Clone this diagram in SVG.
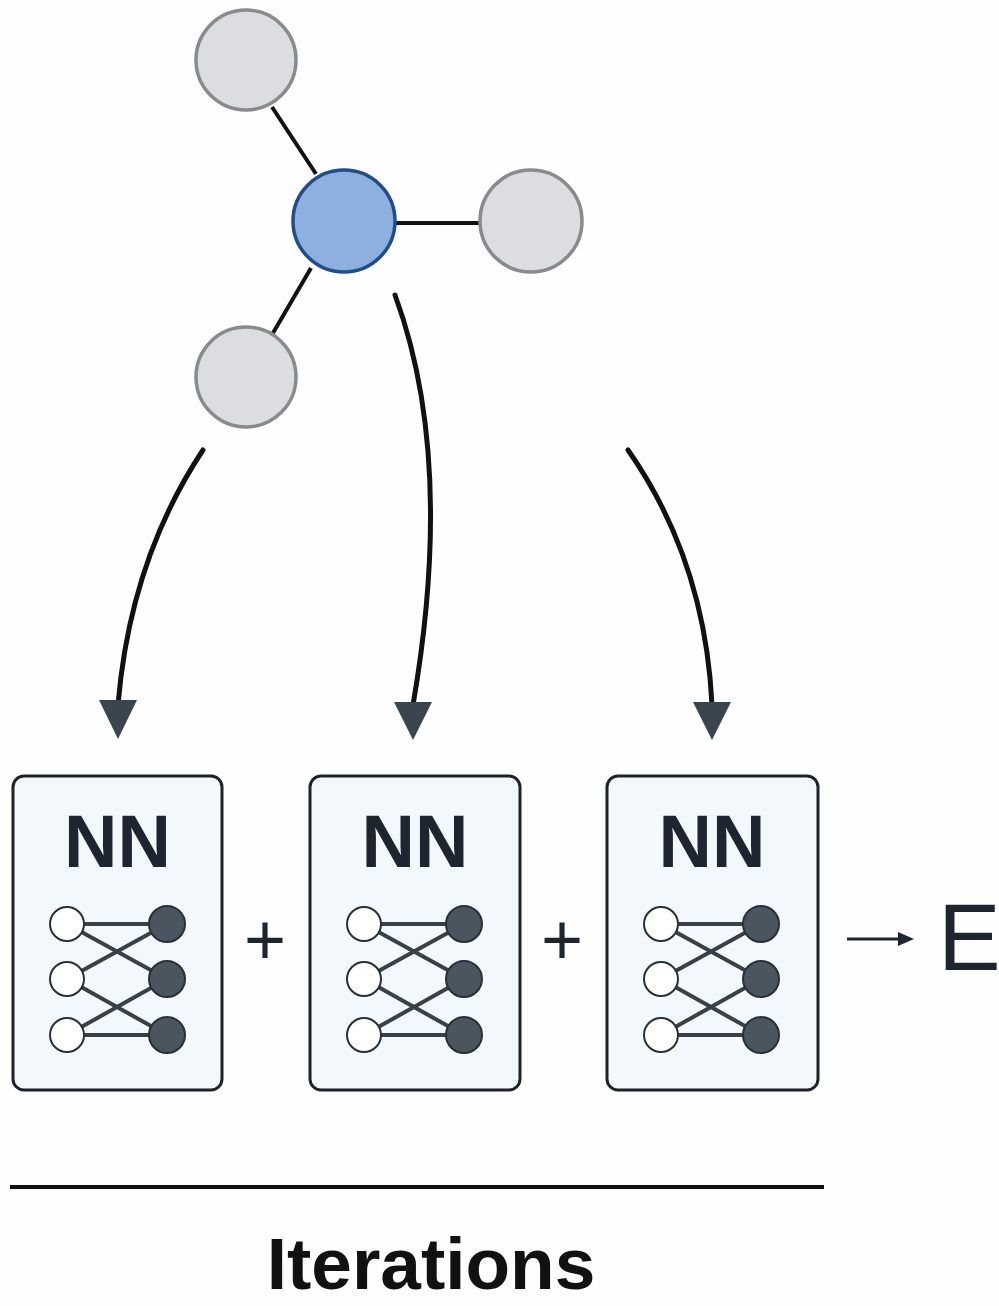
<svg xmlns="http://www.w3.org/2000/svg" width="999" height="1306" viewBox="0 0 999 1306">
<defs>
<style>
.gn{fill:#dcdde0;stroke:#8a8a8a;stroke-width:3.5}
.bn{fill:#8eb0de;stroke:#1f4e8c;stroke-width:3.5}
.edge{stroke:#111;stroke-width:4;fill:none}
.flow{stroke:#111;stroke-width:5;fill:none;stroke-linecap:round}
.box{fill:#f3f8fc;stroke:#1f2328;stroke-width:3}
.nn{font-family:"Liberation Sans",Arial,sans-serif;font-weight:bold;font-size:74px;fill:#1c2530;text-anchor:middle}
.w{fill:#fff;stroke:#2a2f35;stroke-width:2}
.d{fill:#4a5560;stroke:#2a3038;stroke-width:2}
.ml{stroke:#3a4048;stroke-width:4;fill:none}
.op{font-family:"Liberation Sans",Arial,sans-serif;font-size:72px;fill:#1c2530;text-anchor:middle}
</style>
<g id="mini">
<line class="ml" x1="67" y1="924" x2="167" y2="924"/>
<line class="ml" x1="67" y1="1035" x2="167" y2="1035"/>
<line class="ml" x1="67" y1="924" x2="167" y2="979"/>
<line class="ml" x1="67" y1="979" x2="167" y2="924"/>
<line class="ml" x1="67" y1="979" x2="167" y2="1035"/>
<line class="ml" x1="67" y1="1035" x2="167" y2="979"/>
<circle class="w" cx="67" cy="924" r="17"/>
<circle class="w" cx="67" cy="979" r="17"/>
<circle class="w" cx="67" cy="1035" r="17"/>
<circle class="d" cx="167" cy="924" r="18"/>
<circle class="d" cx="167" cy="979" r="18"/>
<circle class="d" cx="167" cy="1035" r="18"/>
</g>
</defs>
<rect width="999" height="1306" fill="#fefefe"/>

<g id="connectors">
<line class="edge" x1="272" y1="107" x2="316" y2="174"/>
<line class="edge" x1="395" y1="223" x2="481" y2="223"/>
<line class="edge" x1="311" y1="268" x2="273" y2="333"/>
<path class="flow" d="M203,450 Q130,560 118,705"/>
<path class="flow" d="M395,295 C430,390 445,520 413,705"/>
<path class="flow" d="M628,450 Q705,560 712,705"/>
<polygon points="99,700 137,700 118,739" fill="#3a4550"/>
<polygon points="394,702 432,702 413,740" fill="#3a4550"/>
<polygon points="693,702 731,702 712,740" fill="#3a4550"/>
<line x1="847" y1="939" x2="902" y2="939" stroke="#1c2530" stroke-width="3"/>
<polygon points="898,932 914,939 898,946" fill="#1c2530"/>
</g>

<g id="node-top"><circle class="gn" cx="246" cy="60" r="50"/></g>
<g id="node-center"><circle class="bn" cx="344" cy="221" r="51"/></g>
<g id="node-right"><circle class="gn" cx="531" cy="221" r="51"/></g>
<g id="node-bottom"><circle class="gn" cx="246" cy="377" r="50"/></g>

<g id="nn1">
<rect class="box" x="13" y="776" width="209" height="314" rx="11"/>
<text class="nn" x="117.5" y="867">NN</text>
<use href="#mini"/>
</g>
<g id="nn2">
<rect class="box" x="310" y="776" width="210" height="314" rx="11"/>
<text class="nn" x="415" y="867">NN</text>
<use href="#mini" x="297"/>
</g>
<g id="nn3">
<rect class="box" x="607" y="776" width="211" height="314" rx="11"/>
<text class="nn" x="712" y="867">NN</text>
<use href="#mini" x="594"/>
</g>

<text class="op" x="265" y="964">+</text>
<text class="op" x="562" y="964">+</text>
<text x="938" y="970" font-family="'Liberation Sans',Arial,sans-serif" font-size="94" fill="#1c2530">E</text>

<line x1="10" y1="1187" x2="824" y2="1187" stroke="#111" stroke-width="4"/>
<text x="431" y="1289" text-anchor="middle" font-family="'Liberation Sans',Arial,sans-serif" font-weight="bold" font-size="73" fill="#111">Iterations</text>
</svg>
